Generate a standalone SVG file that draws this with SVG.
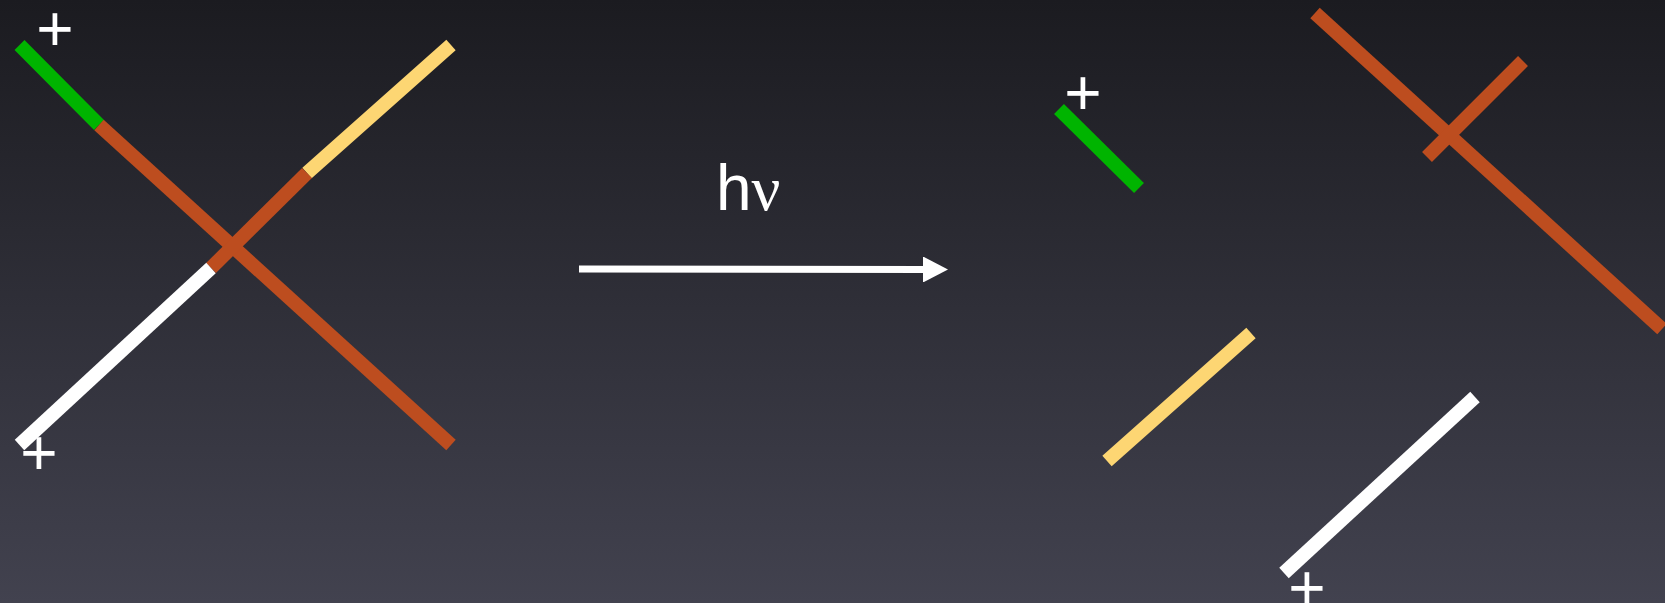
<svg xmlns="http://www.w3.org/2000/svg" width="1665" height="603" viewBox="0 0 1665 603">
<defs>
<linearGradient id="bg" x1="0" y1="0" x2="0" y2="1">
<stop offset="0" stop-color="#1b1b20"/>
<stop offset="1" stop-color="#42424f"/>
</linearGradient>
<marker id="ah" markerUnits="userSpaceOnUse" markerWidth="26" markerHeight="26" refX="0" refY="13" orient="auto">
<path d="M0,0 L25,13 L0,26 Z" fill="#ffffff"/>
</marker>
</defs>
<style>
.seg{stroke-width:14;stroke-linecap:butt;fill:none}
.g{stroke:#00b400}.o{stroke:#bd4d1f}.y{stroke:#fdd673}.w{stroke:#ffffff}
.plus{font-family:"Liberation Sans",Arial,sans-serif;font-size:64px;fill:#ffffff;text-anchor:middle}
.lbl{font-family:"Liberation Sans",Arial,sans-serif;font-size:64px;fill:#ffffff}
</style>
<rect width="1665" height="603" fill="url(#bg)"/>
<g id="reactant">
<line class="seg g" x1="19.5" y1="45" x2="99" y2="125"/>
<line class="seg o" x1="99" y1="125" x2="451" y2="445"/>
<line class="seg y" x1="451" y1="45" x2="307" y2="173"/>
<line class="seg o" x1="307" y1="173" x2="211" y2="268"/>
<line class="seg w" x1="211" y1="268" x2="19.5" y2="445"/>
<text class="plus" x="55" y="51">+</text>
<text class="plus" x="39" y="475">+</text>
</g>
<g id="connectors">
<line x1="579" y1="269" x2="923" y2="269.5" stroke="#ffffff" stroke-width="7" marker-end="url(#ah)"/>
<text class="lbl" x="716" y="210">h<tspan font-family="Liberation Serif, serif">ν</tspan></text>
</g>
<g id="products">
<line class="seg g" x1="1059" y1="109" x2="1139" y2="188"/>
<line class="seg o" x1="1315" y1="13" x2="1662" y2="329"/>
<line class="seg o" x1="1523" y1="61" x2="1427" y2="157"/>
<line class="seg y" x1="1251" y1="333" x2="1107" y2="461"/>
<line class="seg w" x1="1475" y1="397" x2="1284" y2="573"/>
<text class="plus" x="1083" y="115">+</text>
<text class="plus" x="1307" y="610">+</text>
</g>
</svg>
